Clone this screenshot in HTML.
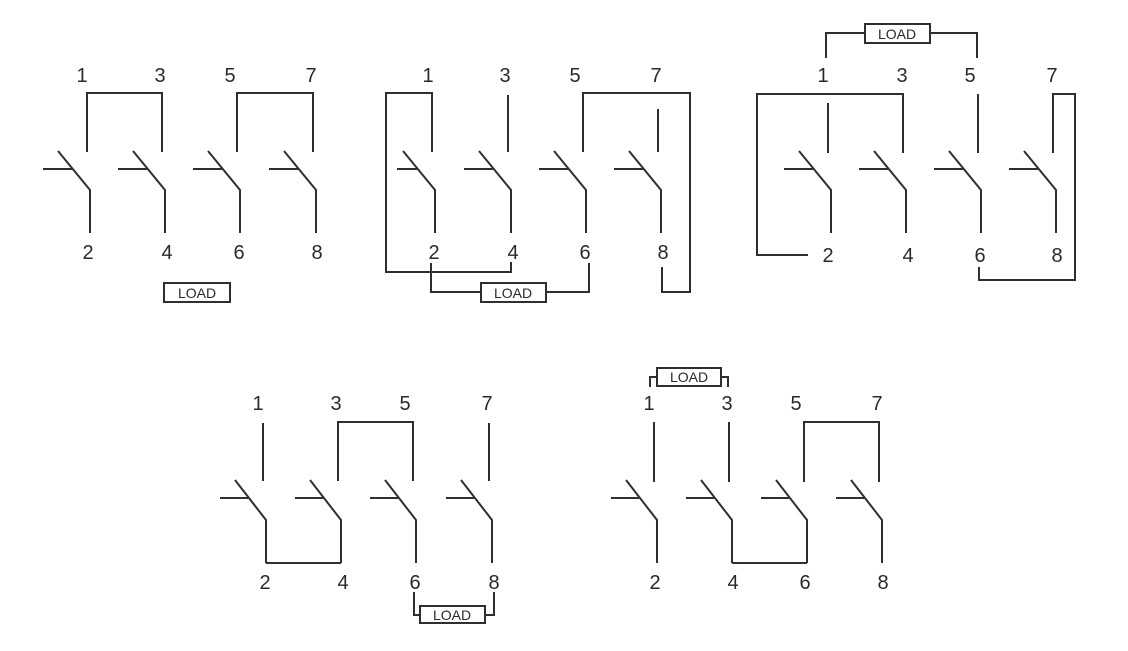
<!DOCTYPE html>
<html><head><meta charset="utf-8"><style>
html,body{margin:0;padding:0;background:#fff;}
svg{display:block;}
text{font-family:"Liberation Sans",sans-serif;fill:#2a2a2a;}
.n{font-size:20px;text-anchor:middle;}
.l{font-size:14px;text-anchor:middle;}
</style></head><body>
<svg width="1128" height="651" viewBox="0 0 1128 651" xmlns="http://www.w3.org/2000/svg">
<g fill="none" stroke="#2f2f2f" stroke-width="2">
<!-- Diagram 1 -->
<path d="M58 151 L90 190 V233 M43 169 H72"/>
<path d="M133 151 L165 190 V233 M118 169 H147"/>
<path d="M208 151 L240 190 V233 M193 169 H222"/>
<path d="M284 151 L316 190 V233 M269 169 H298"/>
<path d="M87 152 V93 H162 V152 M237 152 V93 H313 V152"/>
<rect x="164" y="283" width="66" height="19"/>
<!-- Diagram 2 -->
<path d="M403 151 L435 190 V233 M397 169 H417"/>
<path d="M479 151 L511 190 V233 M464 169 H493"/>
<path d="M554 151 L586 190 V233 M539 169 H568"/>
<path d="M629 151 L661 190 V233 M614 169 H643"/>
<path d="M432 152 V93 H386 V272 H511 V262"/>
<path d="M508 95 V152 M658 109 V152"/>
<path d="M583 152 V93 H690 V292 H662 V267"/>
<path d="M431 263 V292 H481 M546 292 H589 V263"/>
<rect x="481" y="283" width="65" height="19"/>
<!-- Diagram 3 -->
<path d="M799 151 L831 190 V233 M784 169 H813"/>
<path d="M874 151 L906 190 V233 M859 169 H888"/>
<path d="M949 151 L981 190 V233 M934 169 H963"/>
<path d="M1024 151 L1056 190 V233 M1009 169 H1038"/>
<path d="M828 103 V153 M978 94 V153"/>
<path d="M808 255 H757 V94 H903 V153"/>
<path d="M1053 153 V94 H1075 V280 H979 V267"/>
<path d="M826 58 V33 H865 M930 33 H977 V58"/>
<rect x="865" y="24" width="65" height="19"/>
<!-- Diagram 4 -->
<path d="M235 480 L266 520 V563 M220 498 H248"/>
<path d="M310 480 L341 520 V563 M295 498 H323"/>
<path d="M385 480 L416 520 V563 M370 498 H398"/>
<path d="M461 480 L492 520 V563 M446 498 H474"/>
<path d="M263 423 V481 M489 423 V481"/>
<path d="M338 481 V422 H413 V481"/>
<path d="M266 563 H341"/>
<path d="M414 592 V615 H420 M485 615 H494 V592"/>
<rect x="420" y="606" width="65" height="17"/>
<!-- Diagram 5 -->
<path d="M626 480 L657 520 V563 M611 498 H639"/>
<path d="M701 480 L732 520 V563 M686 498 H714"/>
<path d="M776 480 L807 520 V563 M761 498 H789"/>
<path d="M851 480 L882 520 V563 M836 498 H864"/>
<path d="M654 422 V482 M729 422 V482"/>
<path d="M804 482 V422 H879 V482"/>
<path d="M732 563 H807"/>
<path d="M650 387 V377 H657 M721 377 H728 V387"/>
<rect x="657" y="368" width="64" height="18"/>
</g>
<!-- labels -->
<g class="n">
<text class="n" x="82" y="82">1</text><text class="n" x="160" y="82">3</text><text class="n" x="230" y="82">5</text><text class="n" x="311" y="82">7</text>
<text class="n" x="88" y="259">2</text><text class="n" x="167" y="259">4</text><text class="n" x="239" y="259">6</text><text class="n" x="317" y="259">8</text>
<text class="n" x="428" y="82">1</text><text class="n" x="505" y="82">3</text><text class="n" x="575" y="82">5</text><text class="n" x="656" y="82">7</text>
<text class="n" x="434" y="259">2</text><text class="n" x="513" y="259">4</text><text class="n" x="585" y="259">6</text><text class="n" x="663" y="259">8</text>
<text class="n" x="823" y="82">1</text><text class="n" x="902" y="82">3</text><text class="n" x="970" y="82">5</text><text class="n" x="1052" y="82">7</text>
<text class="n" x="828" y="262">2</text><text class="n" x="908" y="262">4</text><text class="n" x="980" y="262">6</text><text class="n" x="1057" y="262">8</text>
<text class="n" x="258" y="410">1</text><text class="n" x="336" y="410">3</text><text class="n" x="405" y="410">5</text><text class="n" x="487" y="410">7</text>
<text class="n" x="265" y="589">2</text><text class="n" x="343" y="589">4</text><text class="n" x="415" y="589">6</text><text class="n" x="494" y="589">8</text>
<text class="n" x="649" y="410">1</text><text class="n" x="727" y="410">3</text><text class="n" x="796" y="410">5</text><text class="n" x="877" y="410">7</text>
<text class="n" x="655" y="589">2</text><text class="n" x="733" y="589">4</text><text class="n" x="805" y="589">6</text><text class="n" x="883" y="589">8</text>
</g>
<text class="l" x="197" y="298">LOAD</text>
<text class="l" x="513" y="298">LOAD</text>
<text class="l" x="897" y="39">LOAD</text>
<text class="l" x="452" y="620">LOAD</text>
<text class="l" x="689" y="382">LOAD</text>
</svg>
</body></html>
